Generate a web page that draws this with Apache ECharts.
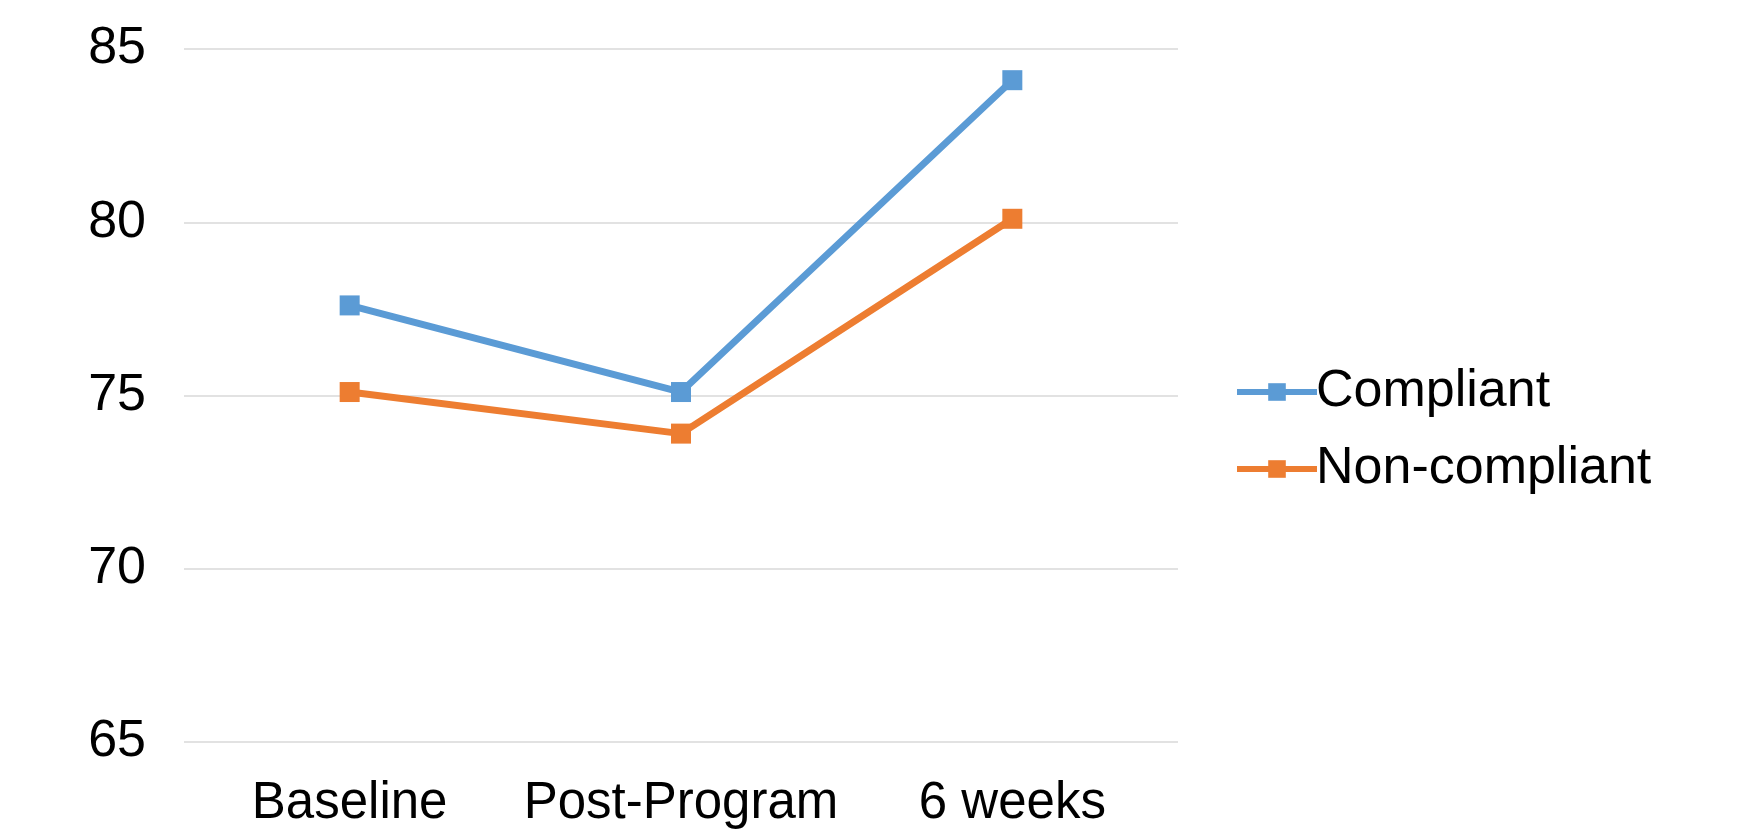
<!DOCTYPE html>
<html>
	<head>
		<meta charset="UTF-8">
		<title>Compliance</title>
		<script src="https://cdn.jsdelivr.net/npm/echarts@6/dist/echarts.min.js"></script>
		<style>
			html, body { margin: 0; padding: 0; background: #fff; }
			#main { width: 1746px; height: 829px; }
		</style>
	</head>
	<body>
		<div id="main"></div>
		<script type="text/javascript">
			var categories = ['Baseline', 'Post-Program', '6 weeks'];
			var compliant = [77.6, 75.1, 84.1];
			var nonCompliant = [75.1, 73.9, 80.1];
			var seriesNames = ['Compliant', 'Non-compliant'];

			var font = 'Liberation Sans, Arial, sans-serif';
			var chart = echarts.init(document.getElementById('main'));

			var option = {
				animation: false,
				color: ['#5B9BD5', '#ED7D31'],
				grid: { left: 184, right: 568, top: 49, bottom: 83 },
				legend: {
					orient: 'vertical',
					left: 1229,
					top: 361,
					itemWidth: 80,
					itemHeight: 22,
					itemGap: 25,
					lineStyle: { width: 6 },
					textStyle: { fontFamily: font, fontSize: 52, lineHeight: 52, color: '#000', padding: [0, 0, 0, -6] },
					data: seriesNames
				},
				xAxis: {
					type: 'category',
					data: categories,
					boundaryGap: true,
					axisLine: { show: false },
					axisTick: { show: false },
					axisLabel: { fontFamily: font, fontSize: 51, color: '#000', margin: 36, interval: 0 }
				},
				yAxis: {
					type: 'value',
					min: 65,
					max: 85,
					interval: 5,
					axisLine: { show: false },
					axisTick: { show: false },
					splitLine: { lineStyle: { color: '#D9D9D9', width: 1.5 } },
					axisLabel: { fontFamily: font, fontSize: 52, color: '#000', margin: 38 }
				},
				series: [
					{
						name: seriesNames[0],
						type: 'line',
						data: compliant,
						symbol: 'rect',
						symbolSize: 20,
						lineStyle: { width: 7 }
					},
					{
						name: seriesNames[1],
						type: 'line',
						data: nonCompliant,
						symbol: 'rect',
						symbolSize: 20,
						lineStyle: { width: 7 }
					}
				]
			};

			chart.setOption(option);
		</script>
	</body>
</html>
